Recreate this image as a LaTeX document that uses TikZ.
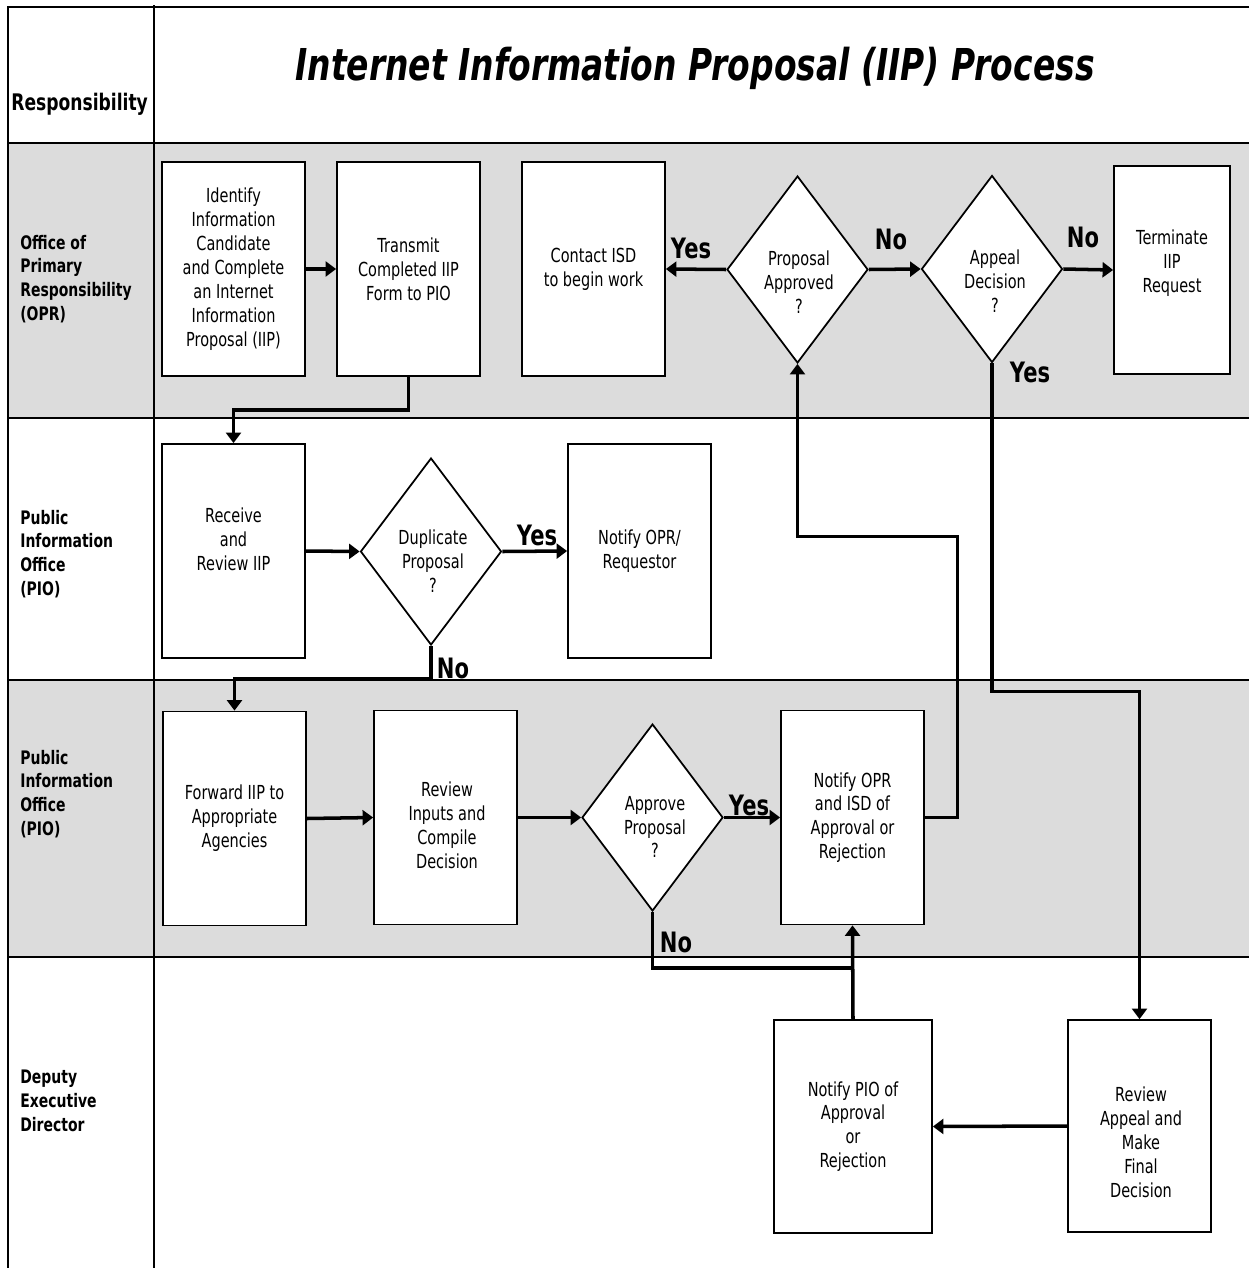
\documentclass[tikz,border=0pt]{standalone}
\usepackage{fontspec}
\setmainfont{DejaVu Sans}[FakeStretch=0.75]
\usepackage{xcolor}
\usetikzlibrary{positioning,shapes.geometric,arrows.meta}
\definecolor{lanegray}{HTML}{DCDCDC}

\begin{document}
\begin{tikzpicture}[x=0.02cm,y=-0.02cm,
    lane/.style={line width=1.1pt},
    stepbox/.style={draw,line width=1pt,fill=white,minimum width=2.86cm,minimum height=4.28cm,
        align=center,inner sep=2pt,font=\fontsize{11}{13.6}\selectfont},
    decide/.style={draw,diamond,line width=1pt,fill=white,minimum width=2.82cm,minimum height=3.74cm,inner sep=0pt},
    qtext/.style={align=center,font=\fontsize{11}{13.6}\selectfont},
    who/.style={align=left,anchor=west,inner sep=0pt,font=\fontsize{10.6}{13.6}\selectfont\bfseries},
    yn/.style={font=\fontsize{16}{18}\selectfont\bfseries},
    flow/.style={line width=2pt,-{Triangle[length=6pt,width=8.5pt]}},
    route/.style={line width=1.8pt}]
            \useasboundingbox (0,0) rectangle (1249,1268);
            % Lanes
            \fill[lanegray] (8,143) rectangle (1249,418);
            \fill[lanegray] (8,680) rectangle (1249,957);
            \draw[lane] (1249,7) -- (8,7) -- (8,1268);
            \draw[lane] (154,5) -- (154,1268);
            \foreach \y in {143,418,680,957} \draw[lane] (8,\y) -- (1249,\y);
            % Headings
            \node[font=\fontsize{25}{30}\selectfont\bfseries\itshape] (title) at (695,68)
                {Internet Information Proposal (IIP) Process};
            \node[who,font=\fontsize{13}{15}\selectfont\bfseries] (resp) at (11,104) {Responsibility};
            \node[who] (opr) at (20,279) {Office of\\Primary\\Responsibility\\(OPR)};
            \node[who] (pio) at (20,554) {Public\\Information\\Office\\(PIO)};
            \node[who] (piob) at (20,794) {Public\\Information\\Office\\(PIO)};
            \node[who] (ded) at (20,1101) {Deputy\\Executive\\Director};
            % OPR lane
            \node[stepbox] (id) at (233.5,269) {Identify\\Information\\Candidate\\and Complete\\an Internet\\Information\\Proposal (IIP)};
            \node[stepbox] (tr) at (408.5,269) {Transmit\\Completed IIP\\Form to PIO};
            \node[stepbox] (cs) at (593.5,269) {Contact ISD\\to begin work};
            \node[decide] (pa) at (797.5,269.5) {};
            \node[qtext] (pat) at (799,282) {Proposal\\Approved\\?};
            \node[decide] (ad) at (992,269) {};
            \node[qtext] (adt) at (995,281) {Appeal\\Decision\\?};
            \node[stepbox,minimum width=2.32cm,minimum height=4.16cm] (tm) at (1172,270) {};
            \node[qtext] (tmt) at (1172,263) {Terminate\\IIP\\Request};
            % PIO lane
            \node[stepbox] (rv) at (233.5,551) {Receive\\and\\Review IIP\\ };
            \node[decide] (dp) at (431,551.5) {};
            \node[qtext] (dpt) at (433,561) {Duplicate\\Proposal\\?};
            \node[stepbox] (nr) at (639.5,551) {Notify OPR/\\Requestor};
            % PIO lane, second
            \node[stepbox] (fw) at (234.5,818.5) {Forward IIP to\\Appropriate\\Agencies};
            \node[stepbox] (ri) at (445.5,817.5) {};
            \node[qtext] (rit) at (447,825) {Review\\Inputs and\\Compile\\Decision};
            \node[decide] (ap) at (652.5,817.5) {};
            \node[qtext] (apt) at (655,827) {Approve\\Proposal\\?};
            \node[stepbox] (no) at (852.5,817.5) {Notify OPR\\and ISD of\\Approval or\\Rejection};
            % Deputy lane
            \node[stepbox,minimum width=3.16cm,minimum height=4.26cm] (np) at (853,1126.5) {Notify PIO of\\Approval\\or\\Rejection};
            \node[stepbox,minimum height=4.24cm] (ra) at (1139.5,1126) {};
            \node[qtext] (rat) at (1141,1142) {Review\\Appeal and\\Make\\Final\\Decision};
            \coordinate (nojn) at (852.5,968);
            % Flow
            \draw[flow] (id.east) -- (tr.west);
            \draw[flow] (tr.south) -- ++(0,33) -| (rv.north);
            \draw[flow] (pa.west) -- (cs.east);
            \draw[flow] (pa.east) -- (ad.west);
            \draw[flow] (ad.east) -- (tm.west);
            \draw[flow,line width=1.8pt] (ad.south) -- ++(0,328) -| (ra.north);
            \draw[flow] (rv.east) -- (dp.west);
            \draw[flow] (dp.east) -- (nr.west);
            \draw[flow,line width=1.8pt] (dp.south) -- ++(0,33) -| (fw.north);
            \draw[flow] (fw.east) -- (ri.west);
            \draw[flow] (ri.east) -- (ap.west);
            \draw[flow] (ap.east) -- (no.west);
            \draw[route] (ap.south) |- (nojn);
            \draw[flow] (np.north) -- (no.south);
            \draw[flow,line width=1.8pt] (no.east) -| ++(33,-281) -| (pa.south);
            \draw[flow] (ra.west) -- (np.east);
            % Yes / No
            \node[yn] (y1) at (691,248) {Yes};
            \node[yn] (n1) at (891,239) {No};
            \node[yn] (n2) at (1083,237) {No};
            \node[yn] (y2) at (1030,372) {Yes};
            \node[yn] (y3) at (537,535) {Yes};
            \node[yn] (n3) at (453,668) {No};
            \node[yn] (y4) at (749,805) {Yes};
            \node[yn] (n4) at (676,942) {No};
\end{tikzpicture}
\end{document}
